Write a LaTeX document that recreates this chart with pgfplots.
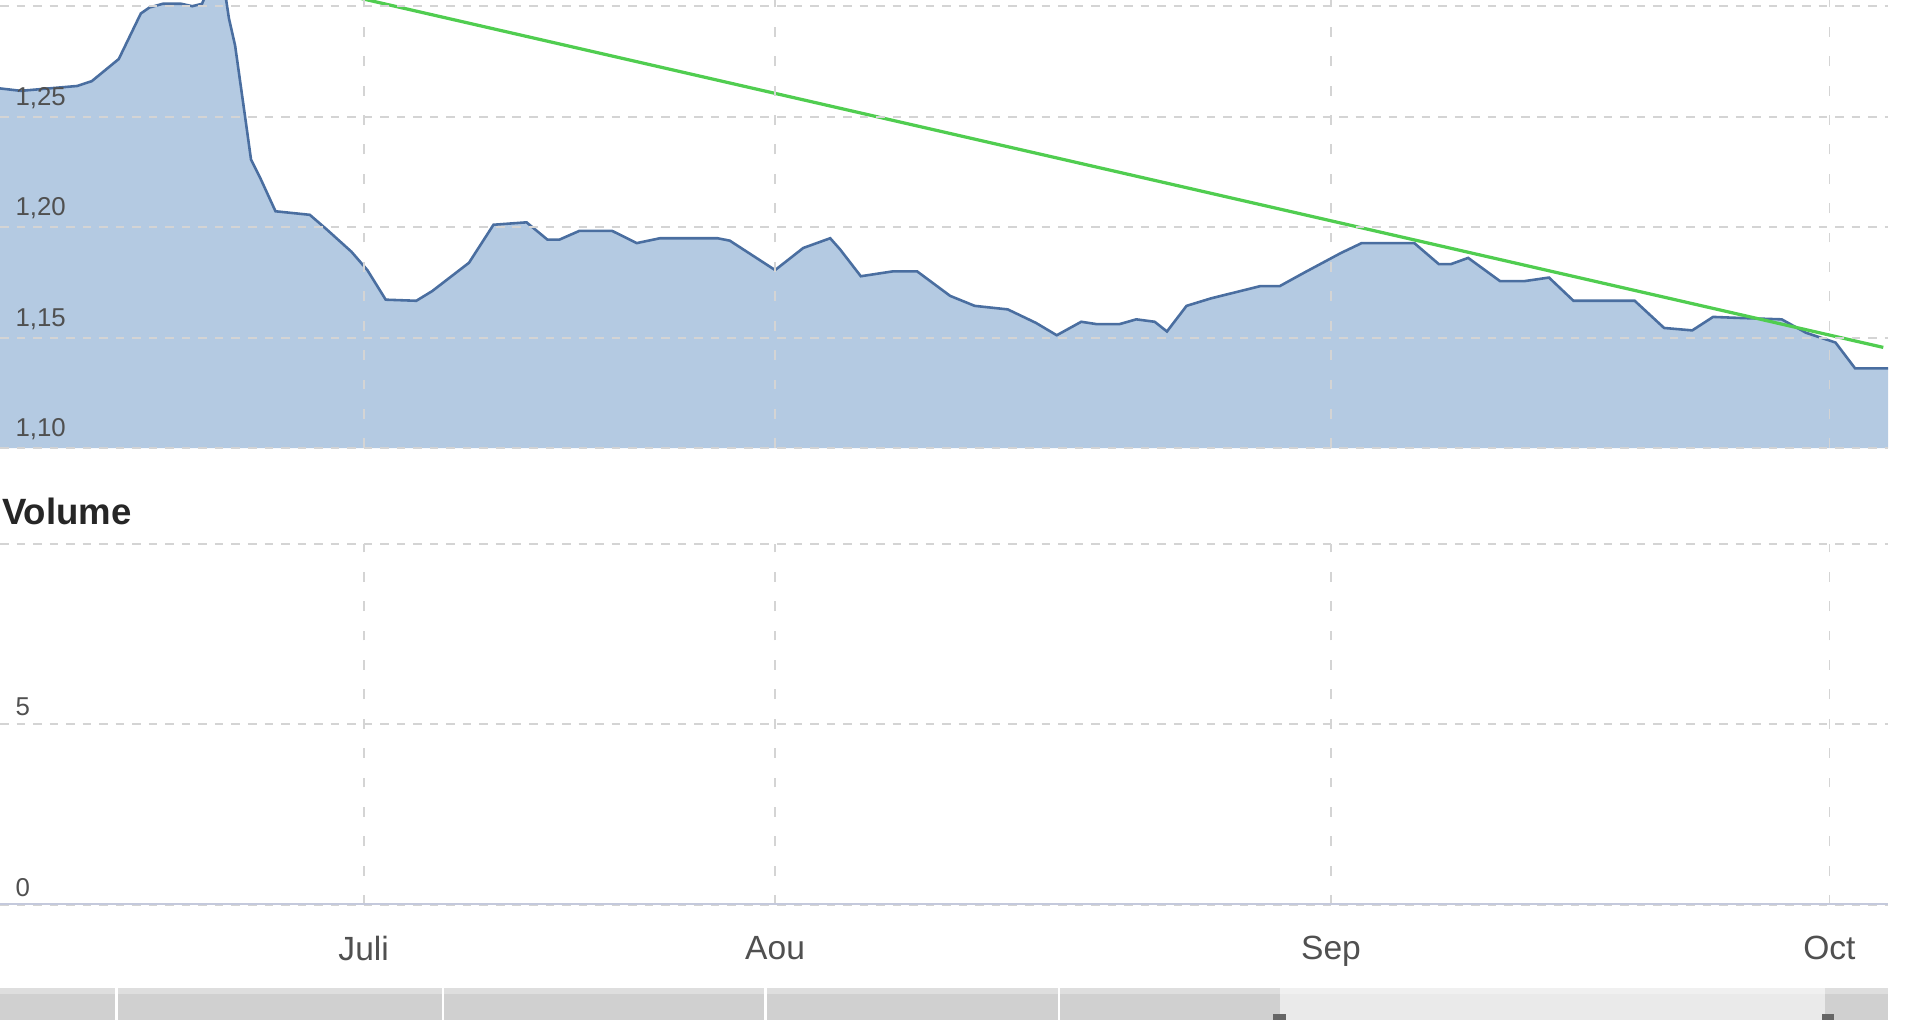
\documentclass[border=0pt]{standalone}
\usepackage{pgfplots}
\pgfplotsset{compat=1.18}
\usepackage{pgfplotstable}
\usepackage{fontspec}
\setmainfont{Liberation Sans}

\definecolor{areafill}{RGB}{180,202,226}
\definecolor{arealine}{RGB}{74,110,160}
\definecolor{trend}{RGB}{80,205,80}
\definecolor{gridgray}{RGB}{212,212,212}
\definecolor{labelgray}{RGB}{80,80,80}
\definecolor{axisline}{RGB}{196,201,220}
\definecolor{navdark}{RGB}{208,208,208}
\definecolor{navlight}{RGB}{234,234,234}

% price series, x in pixel-like day positions
\pgfplotstableread{
x y
0 1.2628
17 1.2617
63 1.2639
75 1.2661
97 1.2761
115 1.2967
122 1.2994
133 1.3011
148 1.3011
157 1.3000
165 1.3011
171 1.3090
183 1.3090
187 1.2944
192 1.2822
200 1.2506
205 1.2306
213 1.2217
225 1.2072
253 1.2056
267 1.1989
287 1.1889
300 1.1806
315 1.1672
340 1.1667
353 1.1711
383 1.1839
403 1.2011
430 1.2022
447 1.1944
457 1.1944
473 1.1983
500 1.1983
520 1.1928
539 1.1950
586 1.1950
596 1.1939
633 1.1806
656 1.1906
678 1.1950
686 1.1900
703 1.1778
729 1.1800
749 1.1800
776 1.1689
796 1.1644
823 1.1628
846 1.1567
863 1.1511
883 1.1572
896 1.1561
914 1.1561
928 1.1583
943 1.1572
953 1.1528
969 1.1644
989 1.1678
1013 1.1711
1029 1.1733
1045 1.1733
1065 1.1794
1095 1.1883
1112 1.1928
1155 1.1928
1175 1.1833
1185 1.1833
1199 1.1861
1225 1.1756
1245 1.1756
1265 1.1772
1285 1.1667
1335 1.1667
1359 1.1544
1382 1.1533
1399 1.1594
1422 1.1589
1455 1.1583
1475 1.1522
1499 1.1478
1515 1.1361
1542 1.1361
}\price

\begin{document}
\begin{tikzpicture}

\pgfplotsset{
  chartbase/.style={
    scale only axis,
    anchor=south west,
    width=15.42cm,
    xmin=0, xmax=1542,
    axis line style={draw=none},
    major tick length=0pt,
    grid=major,
    x grid style={gridgray, line width=0.4pt, dash pattern=on 0.08cm off 0.16cm},
    y grid style={gridgray, line width=0.4pt, dash pattern=on 0.07cm off 0.065cm},
    xtick={297,633,1087,1494},
    /pgf/number format/assume math mode=true,
    yticklabel style={anchor=south west, inner sep=0pt, xshift=0.12cm, yshift=0.06cm,
      font=\fontsize{6}{7}\selectfont, text=labelgray},
  },
}

\begin{axis}[chartbase,
  axis on top,
  at={(0,4.67cm)},
  height=3.66cm,
  ymin=1.10, ymax=1.3028,
  ytick={1.10,1.15,1.20,1.25,1.30},
  yticklabels={{1,10},{1,15},{1,20},{1,25},{}},
  xticklabels={},
]
\addplot[draw=none, fill=areafill] table {\price} \closedcycle;
\addplot[arealine, line width=0.6pt] table {\price};
\addplot[trend, line width=0.75pt] coordinates {(250,1.3092) (1538,1.1456)};
\end{axis}

\node[anchor=west, inner sep=0pt, font=\bfseries\fontsize{8.5}{10}\selectfont, text=black!85]
  at (0.01cm,4.15cm) {Volume};

\begin{axis}[chartbase,
  at={(0,0.94cm)},
  height=2.95cm,
  ymin=0, ymax=10,
  ytick={0,5,10},
  yticklabels={0,5,{}},
  xticklabels={Juli,Aou,Sep,Oct},
  xticklabel style={anchor=north, yshift=-0.13cm, font=\fontsize{7.8}{9}\selectfont, text=labelgray},
]
\addplot[draw=none] coordinates {(0,0)};
\draw[axisline, line width=0.035cm] (axis cs:0,0) -- (axis cs:1542,0);
\end{axis}

% navigator strip
\fill[navdark] (0,0) rectangle (15.42cm,0.26cm);
\fill[navlight] (10.45cm,0) rectangle (14.90cm,0.26cm);
\fill[white, opacity=0.3] (0,0.21cm) rectangle (15.42cm,0.26cm);
\foreach \sx in {0.95,3.62,6.25,8.65}
  \draw[white, line width=0.02cm] (\sx cm,0) -- (\sx cm,0.26cm);
\fill[black!60] (10.40cm,0) rectangle (10.50cm,0.05cm);
\fill[black!60] (14.88cm,0) rectangle (14.98cm,0.05cm);

\pgfresetboundingbox
\path[use as bounding box] (0,0) rectangle (15.68cm,8.33cm);
\end{tikzpicture}
\end{document}
